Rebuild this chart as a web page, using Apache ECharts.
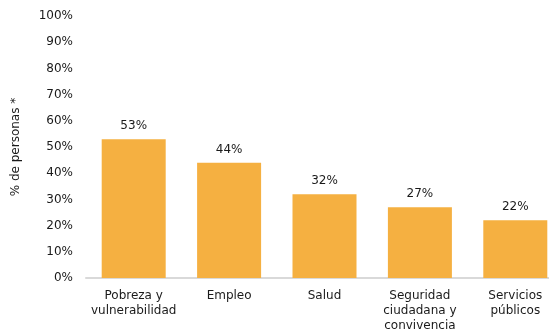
<!DOCTYPE html>
<html>
<head>
<meta charset="utf-8">
<script src="https://cdn.jsdelivr.net/npm/echarts@6/dist/echarts.min.js"></script>
<style>
  html, body { margin: 0; padding: 0; background: #fff; }
  #chart { width: 549px; height: 330px; }
</style>
</head>
<body>
<div id="chart"></div>
<script>
// categories and values
const categories = [
  'Pobreza y\nvulnerabilidad',
  'Empleo',
  'Salud',
  'Seguridad\nciudadana y\nconvivencia',
  'Servicios\npúblicos'
];
const values = [53, 44, 32, 27, 22];

const font = 'DejaVu Sans';
const chart = echarts.init(document.getElementById('chart'));

chart.setOption({
  animation: false,
  textStyle: { fontFamily: font },
  // the category band runs past the right edge of the canvas in the reference
  grid: { left: 86, top: 16, width: 477, height: 262, containLabel: false, outerBoundsMode: 'none' },
  xAxis: {
    type: 'category',
    data: categories,
    axisTick: { show: false },
    axisLine: { lineStyle: { color: '#d9d9d9', width: 2 } },
    axisLabel: {
      color: '#1a1a1a', fontSize: 12, fontFamily: font,
      margin: 10, lineHeight: 15, interval: 0
    }
  },
  yAxis: {
    type: 'value',
    min: 0, max: 100, interval: 10,
    name: '% de personas *',
    nameLocation: 'middle',
    nameGap: 64,
    nameTextStyle: { color: '#1a1a1a', fontSize: 12, fontFamily: font },
    splitLine: { show: false },
    axisLine: { show: false },
    axisTick: { show: false },
    axisLabel: {
      color: '#1a1a1a', fontSize: 12, fontFamily: font,
      margin: 13, formatter: '{value}%'
    }
  },
  series: [{
    type: 'bar',
    data: values,
    barWidth: 64,
    itemStyle: { color: '#F5B041' },
    label: {
      show: true, position: 'top', distance: 7,
      color: '#1a1a1a', fontSize: 12, fontFamily: font,
      formatter: '{c}%'
    }
  }]
});
</script>
</body>
</html>
